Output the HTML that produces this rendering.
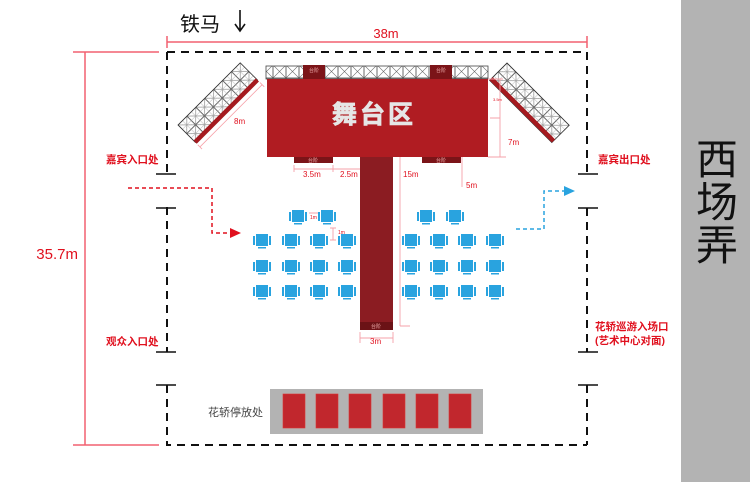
<!DOCTYPE html>
<html><head><meta charset="utf-8"><style>
html,body{margin:0;padding:0;background:#fff;}
svg{display:block;font-family:"Liberation Sans","Noto Sans CJK SC",sans-serif;}
</style></head><body>
<svg width="750" height="482" viewBox="0 0 750 482" xmlns="http://www.w3.org/2000/svg">
<defs>
<pattern id="tr" width="12.6" height="12.3" patternUnits="userSpaceOnUse">
<rect width="12.6" height="12.3" fill="#fff" stroke="#444" stroke-width="0.8"/>
<path d="M0 0L12.6 12.3M12.6 0L0 12.3" stroke="#777" stroke-width="0.6"/>
<path d="M6.3 0V12.3M0 6.15H12.6" stroke="#aaa" stroke-width="0.4"/>
</pattern>
<pattern id="tt" width="13" height="13" patternUnits="userSpaceOnUse">
<rect width="13" height="13" fill="#fff" stroke="#444" stroke-width="0.8"/>
<path d="M0 0L13 13M13 0L0 13" stroke="#666" stroke-width="0.6"/>
</pattern>
<g id="ch">
<rect x="-6" y="-7" width="12" height="12" fill="#29a3df"/>
<rect x="-9" y="-5" width="2" height="9" fill="#29a3df"/>
<rect x="7" y="-5" width="2" height="9" fill="#29a3df"/>
<rect x="-4" y="6" width="8" height="1.5" fill="#29a3df"/>
</g>
</defs>
<rect x="681" y="0" width="69" height="482" fill="#b3b3b3"/>
<text x="717" y="174" font-size="42" text-anchor="middle" fill="#111">西</text>
<text x="717" y="217" font-size="42" text-anchor="middle" fill="#111">场</text>
<text x="717" y="260" font-size="42" text-anchor="middle" fill="#111">弄</text>

<text x="180" y="31" font-size="20" fill="#111">铁马</text>
<path d="M240 10V30M235 24L240 31L245 24" stroke="#111" stroke-width="1.6" fill="none"/>

<g stroke="#f26070" stroke-width="1.5" fill="none">
<path d="M167 42H587M167 36V48M587 36V48"/>
<path d="M73 52H159M85 52V445M73 445H159"/>
</g>
<text x="386" y="38" font-size="13" text-anchor="middle" fill="#e0101e">38m</text>
<text x="78" y="259" font-size="15" text-anchor="end" fill="#e0101e">35.7m</text>

<g stroke="#111" stroke-width="2" fill="none" stroke-dasharray="8,6">
<path d="M167 52H587"/>
<path d="M167 52V174M167 207V352M167 385V445H587"/>
<path d="M587 52V174M587 208V352M587 385V445"/>
</g>
<g stroke="#111" stroke-width="1.6">
<path d="M156 174H176M156 208H176M156 352H176M156 385H176M167 208V212M167 385V389"/>
<path d="M578 174H598M578 208H598M578 352H598M578 385H598"/>
</g>

<text x="106" y="163" font-size="10.5" font-weight="bold" fill="#e0101e">嘉宾入口处</text>
<text x="106" y="345" font-size="10.5" font-weight="bold" fill="#e0101e">观众入口处</text>
<text x="598" y="163" font-size="10.5" font-weight="bold" fill="#e0101e">嘉宾出口处</text>
<text x="595" y="330" font-size="10.5" font-weight="bold" fill="#e0101e">花轿巡游入场口</text>
<text x="595" y="344" font-size="10.5" font-weight="bold" fill="#e0101e">(艺术中心对面)</text>

<g transform="translate(178,125) rotate(-45)">
<rect x="0" y="0" width="88" height="24.6" fill="url(#tr)" stroke="#333" stroke-width="0.8"/>
<rect x="0" y="22" width="88" height="4.5" fill="#a51a1f"/>
<path d="M0 31H88M0 28V34M88 28V34" stroke="#f6a0a8" stroke-width="0.8"/>
</g>
<text x="234" y="124" font-size="8" fill="#e0101e">8m</text>
<g transform="translate(507,63) rotate(45)">
<rect x="0" y="0" width="88" height="24.6" fill="url(#tr)" stroke="#333" stroke-width="0.8"/>
<rect x="0" y="20" width="88" height="4.5" fill="#a51a1f"/>
</g>

<rect x="266" y="66" width="222" height="13" fill="url(#tt)" stroke="#444" stroke-width="0.8"/>
<rect x="303" y="65" width="22" height="14" fill="#7b1418"/>
<rect x="430" y="65" width="22" height="14" fill="#7b1418"/>
<text x="314" y="72" font-size="5" fill="#eaa" text-anchor="middle">台阶</text>
<text x="441" y="72" font-size="5" fill="#eaa" text-anchor="middle">台阶</text>

<rect x="267" y="79" width="221" height="78" fill="#b01c22"/>
<text x="374" y="123" font-size="25" font-weight="bold" fill="#e6e6e6" text-anchor="middle" stroke="#e6e6e6" stroke-width="0.8" letter-spacing="3">舞台区</text>
<rect x="294" y="157" width="39" height="6" fill="#7b1418"/>
<rect x="422" y="157" width="39" height="6" fill="#7b1418"/>
<text x="313" y="162" font-size="5" fill="#eaa" text-anchor="middle">台阶</text>
<text x="441" y="162" font-size="5" fill="#eaa" text-anchor="middle">台阶</text>
<rect x="360" y="157" width="33" height="173" fill="#8b1c22"/>
<rect x="360" y="322" width="33" height="8" fill="#6b1216"/>
<text x="376" y="328" font-size="5" fill="#eaa" text-anchor="middle">台阶</text>

<g stroke="#f6a0a8" stroke-width="0.9" fill="none">
<path d="M294 165V172M333 165V172M294 169H333M333 169H360"/>
<path d="M488 79H503M488 157H506M500 79V157M490 118H500"/>
<path d="M400 157V326M400 326H410"/>
<path d="M462 157V187"/>
<path d="M360 332V343M393 332V343M360 338H393"/>
<path d="M309 213H320M333 228V240M330 228H336M330 240H336"/>
</g>
<text x="303" y="177" font-size="8" fill="#e0101e">3.5m</text>
<text x="340" y="177" font-size="8" fill="#e0101e">2.5m</text>
<text x="403" y="177" font-size="8" fill="#e0101e">15m</text>
<text x="466" y="188" font-size="8" fill="#e0101e">5m</text>
<text x="508" y="145" font-size="8" fill="#e0101e">7m</text>
<text x="493" y="101" font-size="4" fill="#e0101e">3.5m</text>
<text x="370" y="344" font-size="8" fill="#e0101e">3m</text>
<text x="310" y="219" font-size="5" fill="#e0101e">1m</text>
<text x="338" y="234" font-size="5" fill="#e0101e">1m</text>

<use href="#ch" x="298" y="217"/><use href="#ch" x="327" y="217"/>
<use href="#ch" x="426" y="217"/><use href="#ch" x="455" y="217"/>
<g>
<use href="#ch" x="262" y="241"/><use href="#ch" x="291" y="241"/><use href="#ch" x="319" y="241"/><use href="#ch" x="347" y="241"/>
<use href="#ch" x="411" y="241"/><use href="#ch" x="439" y="241"/><use href="#ch" x="467" y="241"/><use href="#ch" x="495" y="241"/>
<use href="#ch" x="262" y="267"/><use href="#ch" x="291" y="267"/><use href="#ch" x="319" y="267"/><use href="#ch" x="347" y="267"/>
<use href="#ch" x="411" y="267"/><use href="#ch" x="439" y="267"/><use href="#ch" x="467" y="267"/><use href="#ch" x="495" y="267"/>
<use href="#ch" x="262" y="292"/><use href="#ch" x="291" y="292"/><use href="#ch" x="319" y="292"/><use href="#ch" x="347" y="292"/>
<use href="#ch" x="411" y="292"/><use href="#ch" x="439" y="292"/><use href="#ch" x="467" y="292"/><use href="#ch" x="495" y="292"/>
</g>

<path d="M128 188H212V233H232" stroke="#e0101e" stroke-width="1.5" fill="none" stroke-dasharray="4,3"/>
<path d="M230 228L241 233L230 238Z" fill="#e0101e"/>
<path d="M516 229H544V191H566" stroke="#29a3df" stroke-width="1.5" fill="none" stroke-dasharray="4,3"/>
<path d="M564 186L575 191L564 196Z" fill="#29a3df"/>

<rect x="270" y="389" width="213" height="45" fill="#b3b3b3"/>
<g fill="#c1272d" stroke="#d33" stroke-width="0.6">
<rect x="283" y="394" width="22" height="34"/><rect x="316" y="394" width="22" height="34"/>
<rect x="349" y="394" width="22" height="34"/><rect x="383" y="394" width="22" height="34"/>
<rect x="416" y="394" width="22" height="34"/><rect x="449" y="394" width="22" height="34"/>
</g>
<text x="208" y="416" font-size="11" fill="#444">花轿停放处</text>
</svg>
</body></html>
